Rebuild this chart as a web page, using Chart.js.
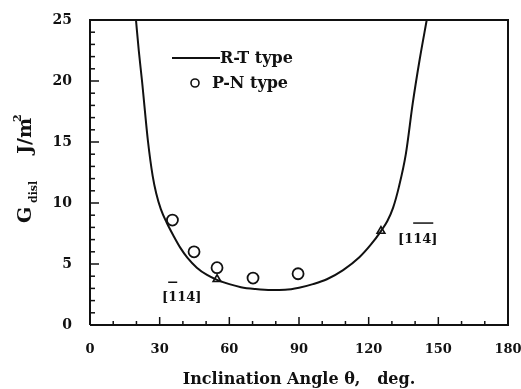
<!DOCTYPE html>
<html>
<head>
<meta charset="utf-8">
<script src="https://cdn.jsdelivr.net/npm/chart.js@4.4.1/dist/chart.umd.min.js"></script>
<style>
  html, body { margin: 0; padding: 0; background: #fff; }
  #wrap { width: 521px; height: 389px; }
</style>
</head>
<body>
<div id="wrap"><canvas id="chart" width="521" height="389"></canvas></div>
<script>
// ===== Data =====
// R-T type curve (theoretical)
const curveX = [19.8, 21, 22.4, 25, 27, 28.5, 30.5, 33, 36, 39, 42, 46, 50.4, 54.7, 60, 65, 71, 78, 84, 90, 96, 102, 109, 116, 121, 125.3, 128, 130.5, 133, 136, 139, 142, 145];
const curveY = [25, 22.5, 20, 15, 12.2, 10.8, 9.5, 8.4, 7.3, 6.3, 5.5, 4.7, 4.1, 3.7, 3.35, 3.1, 2.95, 2.86, 2.88, 3.05, 3.35, 3.75, 4.5, 5.55, 6.6, 7.7, 8.5, 9.6, 11.3, 14, 18.2, 21.8, 25];

// P-N type measurements
const pnX = [35.5, 44.8, 54.7, 70.2, 89.6];
const pnY = [8.6, 6.0, 4.7, 3.85, 4.2];

// triangles marking the [114] directions
const triX = [54.7, 125.3];
const triY = [3.75, 7.7];

const xTicks = [0, 30, 60, 90, 120, 150, 180];
const yTicks = [0, 5, 10, 15, 20, 25];

const FONT = '"DejaVu Serif", "Liberation Serif", serif';

function pts(xs, ys) {
  return xs.map((x, i) => ({ x: x, y: ys[i] }));
}

function noPad(s) {
  s.paddingLeft = 0; s.paddingRight = 0;
  s.paddingTop = 0; s.paddingBottom = 0;
}

// ===== Frame, inner ticks, legend, labels =====
const framePlugin = {
  id: 'frame',
  afterDraw(chart) {
    const c = chart.ctx;
    const a = chart.chartArea;
    const xs = chart.scales.x, ys = chart.scales.y;
    c.save();
    c.strokeStyle = '#111';
    c.lineWidth = 2;
    c.beginPath();
    c.moveTo(a.left, a.bottom);
    c.lineTo(a.left, a.top);
    c.lineTo(a.right, a.top);
    c.lineTo(a.right, a.bottom);
    c.lineTo(a.left, a.bottom);
    c.stroke();

    // x ticks, pointing up into the plot
    c.lineWidth = 1.5;
    for (let v = 10; v < 180; v += 10) {
      const px = xs.getPixelForValue(v);
      const len = v % 30 === 0 ? 8 : 4;
      c.beginPath();
      c.moveTo(px, a.bottom);
      c.lineTo(px, a.bottom - len);
      c.stroke();
    }
    // y ticks, pointing right into the plot
    for (let v = 1; v < 25; v++) {
      const py = ys.getPixelForValue(v);
      const len = v % 5 === 0 ? 9 : 5;
      c.beginPath();
      c.moveTo(a.left, py);
      c.lineTo(a.left + len, py);
      c.stroke();
    }

    // legend
    c.fillStyle = '#111';
    c.font = 'bold 16px ' + FONT;
    c.textBaseline = 'middle';
    c.lineWidth = 2;
    c.beginPath();
    c.moveTo(a.left + 82, a.top + 38);
    c.lineTo(a.left + 130, a.top + 38);
    c.stroke();
    c.fillText('R-T type', a.left + 130, a.top + 39);
    c.lineWidth = 1.6;
    c.beginPath();
    c.arc(a.left + 105, a.top + 63, 4, 0, Math.PI * 2);
    c.stroke();
    c.fillText('P-N type', a.left + 122, a.top + 64);

    // direction labels
    c.font = 'bold 13px ' + FONT;
    const lx = xs.getPixelForValue(triX[0]) - 55;
    const ly = ys.getPixelForValue(triY[0]) + 18;
    c.fillText('[114]', lx, ly);
    let w1 = c.measureText('[').width, w2 = c.measureText('[1').width;
    c.lineWidth = 1.5;
    c.beginPath();
    c.moveTo(lx + w1, ly - 15);
    c.lineTo(lx + w2, ly - 15);
    c.stroke();

    const rx = xs.getPixelForValue(triX[1]) + 17;
    const ry = ys.getPixelForValue(triY[1]) + 9;
    c.fillText('[114]', rx, ry);
    w1 = c.measureText('[1').width;
    w2 = c.measureText('[114').width;
    c.beginPath();
    c.moveTo(rx + w1, ry - 17);
    c.lineTo(rx + w2 + 2, ry - 17);
    c.stroke();

    // y axis title: G_disl  J/m^2
    c.translate(31, a.top + 203);
    c.rotate(-Math.PI / 2);
    c.textBaseline = 'alphabetic';
    c.font = 'bold 19px ' + FONT;
    c.fillText('G', 0, 0);
    c.font = 'bold 11px ' + FONT;
    c.fillText('disl', 20, 6);
    c.font = 'bold 19px ' + FONT;
    c.fillText('J/m', 69, 0);
    c.font = 'bold 11px ' + FONT;
    c.fillText('2', 101, -10);
    c.restore();
  }
};

const ctx = document.getElementById('chart').getContext('2d');
const chart = new Chart(ctx, {
  type: 'scatter',
  data: {
    datasets: [
      {
        label: 'R-T type',
        type: 'line',
        data: pts(curveX, curveY),
        borderColor: '#111',
        borderWidth: 2,
        pointRadius: 0,
        fill: false,
        tension: 0.4,
        cubicInterpolationMode: 'monotone'
      },
      {
        label: 'P-N type',
        data: pts(pnX, pnY),
        pointStyle: 'circle',
        pointRadius: 5.5,
        borderColor: '#111',
        borderWidth: 1.8,
        backgroundColor: 'rgba(0,0,0,0)'
      },
      {
        label: '[114]',
        data: pts(triX, triY),
        pointStyle: 'triangle',
        pointRadius: 4.5,
        borderColor: '#111',
        borderWidth: 1.6,
        backgroundColor: 'rgba(0,0,0,0)'
      }
    ]
  },
  options: {
    responsive: false,
    animation: false,
    layout: { padding: { top: 20, right: 13, left: 0, bottom: 0 } },
    plugins: {
      legend: { display: false },
      tooltip: { enabled: false }
    },
    scales: {
      x: {
        type: 'linear',
        min: 0,
        max: 180,
        afterBuildTicks(s) { s.ticks = xTicks.map(v => ({ value: v })); },
        afterFit(s) { s.height = 64; noPad(s); },
        grid: { display: false, drawTicks: false },
        border: { display: false },
        ticks: {
          color: '#111',
          padding: 17,
          font: { family: FONT, size: 13, weight: 'bold' }
        },
        title: {
          display: true,
          text: 'Inclination Angle \u03b8,   deg.',
          color: '#111',
          padding: { top: 0, bottom: 0 },
          font: { family: FONT, size: 16, weight: 'bold' }
        }
      },
      y: {
        type: 'linear',
        min: 0,
        max: 25,
        afterBuildTicks(s) { s.ticks = yTicks.map(v => ({ value: v })); },
        afterFit(s) { s.width = 90; noPad(s); },
        grid: { display: false, drawTicks: false },
        border: { display: false },
        ticks: {
          color: '#111',
          padding: 18,
          font: { family: FONT, size: 14, weight: 'bold' }
        }
      }
    }
  },
  plugins: [framePlugin]
});
</script>
</body>
</html>
